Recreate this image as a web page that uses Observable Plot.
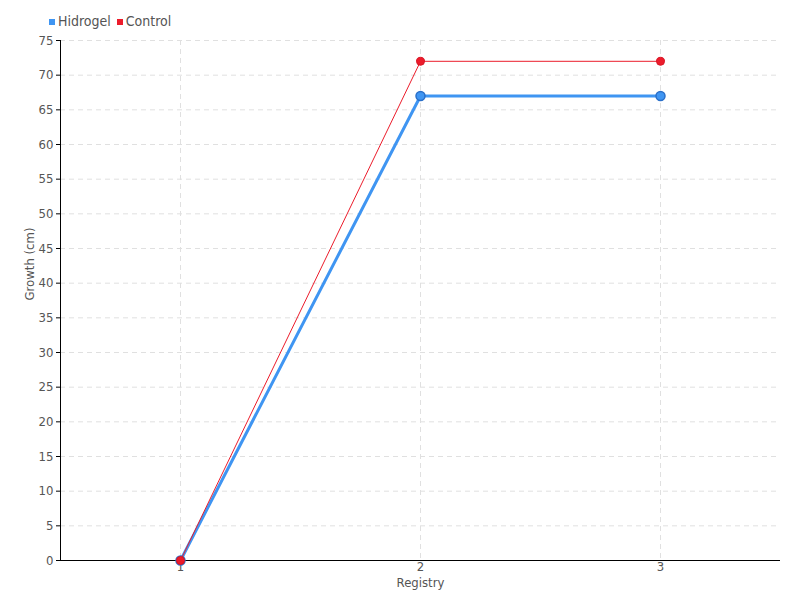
<!DOCTYPE html>
<html>
<head>
<meta charset="utf-8">
<script src="https://cdn.jsdelivr.net/npm/d3@7"></script>
<script src="https://cdn.jsdelivr.net/npm/@observablehq/plot@0.6"></script>
<style>
  html, body { margin: 0; padding: 0; background: #fff; }
  #wrap { position: relative; width: 800px; height: 600px; font-family: "DejaVu Sans Condensed", sans-serif; }
  #legend { position: absolute; left: 49px; top: 13px; font-size: 14px; color: #555; display: flex; gap: 6px; align-items: center; z-index: 2; }
  #legend span.sw { display: inline-block; width: 6px; height: 6px; margin-right: 3px; vertical-align: middle; }
</style>
</head>
<body>
<div id="wrap">
  <div id="legend"></div>
</div>
<script>
const registry = [1, 2, 3];
const hidrogel = [0, 67, 67];
const control = [0, 72, 72];
const seriesNames = ["Hidrogel", "Control"];
const seriesColors = ["#3f95f2", "#ec1c2b"];
const yTicks = d3.range(0, 80, 5);

const hData = registry.map((r, i) => ({x: r, y: hidrogel[i]}));
const cData = registry.map((r, i) => ({x: r, y: control[i]}));

const legend = document.getElementById("legend");
seriesNames.forEach((n, i) => {
  const item = document.createElement("div");
  item.innerHTML = `<span class="sw" style="background:${seriesColors[i]}"></span>${n}`;
  legend.appendChild(item);
});

const font = '"DejaVu Sans Condensed", sans-serif';
const chart = Plot.plot({
  width: 800,
  height: 600,
  marginLeft: 60,
  marginRight: 20,
  marginTop: 40,
  marginBottom: 40,
  style: {fontFamily: font, fontSize: "13px", color: "#555", background: "#fff"},
  x: {domain: [0.5, 3.5]},
  y: {domain: [0, 75]},
  marks: [
    Plot.gridY(yTicks, {stroke: "#e0e0e0", strokeOpacity: 1, strokeDasharray: "5,4"}),
    Plot.gridX(registry, {stroke: "#e0e0e0", strokeOpacity: 1, strokeDasharray: "5,4"}),
    Plot.axisY({ticks: yTicks, tickSize: 4, tickPadding: 3, label: null, stroke: "#000", fill: "#555", fontSize: 13}),
    Plot.axisX({ticks: registry, tickFormat: "d", tickSize: 0, tickPadding: 1, label: null, fill: "#555", fontSize: 13}),
    Plot.ruleX([0.5], {stroke: "#000"}),
    Plot.ruleY([0], {stroke: "#000"}),
    Plot.text(["Registry"], {frameAnchor: "bottom", dy: 26, fill: "#555", fontSize: 13}),
    Plot.text(["Growth (cm)"], {frameAnchor: "left", dx: -31, rotate: -90, fill: "#555", fontSize: 13}),
    Plot.line(hData, {x: "x", y: "y", stroke: seriesColors[0], strokeWidth: 3}),
    Plot.dot(hData, {x: "x", y: "y", r: 4.5, fill: seriesColors[0], stroke: "#2a6fc9", strokeWidth: 1.5}),
    Plot.line(cData, {x: "x", y: "y", stroke: seriesColors[1], strokeWidth: 1}),
    Plot.dot(cData, {x: "x", y: "y", r: 4, fill: seriesColors[1], stroke: "#d81525", strokeWidth: 1})
  ]
});
document.getElementById("wrap").appendChild(chart);
chart.style.position = "absolute";
chart.style.left = "0";
chart.style.top = "0";
</script>
</body>
</html>
